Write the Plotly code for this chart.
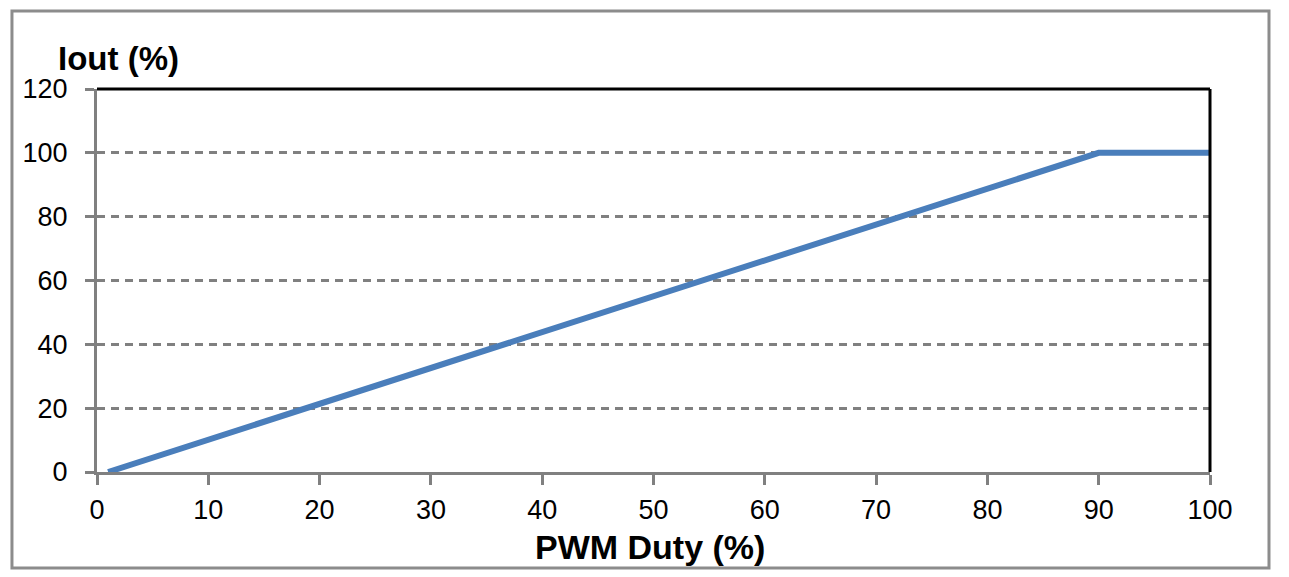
import plotly.graph_objects as go

# PWM duty vs output current
duty_pct = [1, 90, 100]
iout_pct = [0, 100, 100]

x_ticks = [0, 10, 20, 30, 40, 50, 60, 70, 80, 90, 100]
y_ticks = [0, 20, 40, 60, 80, 100, 120]

FONT = "Liberation Sans, Arial, sans-serif"
GRAY = "#808080"

fig = go.Figure()
fig.add_trace(
    go.Scatter(
        x=duty_pct,
        y=iout_pct,
        mode="lines",
        line=dict(color="#4a7ebb", width=6),
        showlegend=False,
        hoverinfo="skip",
    )
)

# page body has an 8px margin, so margins are shifted to keep the plot area in place
fig.update_layout(
    width=1289,
    height=577,
    margin=dict(l=89, r=87, t=81, b=113),
    paper_bgcolor="white",
    plot_bgcolor="white",
    font=dict(family=FONT, size=27, color="black"),
    xaxis=dict(
        range=[0, 100],
        tickvals=x_ticks,
        showgrid=False,
        zeroline=False,
        showline=True,
        linecolor=GRAY,
        linewidth=3,
        ticks="outside",
        ticklen=10,
        tickwidth=3,
        tickcolor=GRAY,
        tickfont=dict(size=27),
        ticklabelstandoff=2,
    ),
    yaxis=dict(
        range=[0, 120],
        tickvals=y_ticks,
        showgrid=True,
        gridcolor=GRAY,
        gridwidth=2.5,
        griddash="8px,6px",
        zeroline=False,
        showline=True,
        linecolor=GRAY,
        linewidth=3,
        ticks="outside",
        ticklen=9,
        tickwidth=3,
        tickcolor=GRAY,
        tickfont=dict(size=27),
        ticklabelstandoff=12,
    ),
    shapes=[
        # black top and right frame of the plot area
        dict(type="line", xref="paper", yref="paper", x0=0, x1=1, y0=1, y1=1,
             line=dict(color="black", width=3)),
        dict(type="line", xref="paper", yref="paper", x0=1, x1=1, y0=0, y1=1,
             line=dict(color="black", width=3)),
        # outer chart border
        dict(type="rect", xref="paper", yref="paper",
             x0=-0.0764, x1=1.0530, y0=-0.2507, y1=1.2037,
             line=dict(color="#8c8c8c", width=3), fillcolor="rgba(0,0,0,0)", layer="below"),
    ],
    annotations=[
        dict(text="<b>Iout (%)</b>", xref="paper", yref="paper", x=0.0189, y=1.08,
             xanchor="center", yanchor="middle", showarrow=False, font=dict(size=33)),
        dict(text="<b>PWM Duty (%)</b>", xref="paper", yref="paper", x=0.4969, y=-0.196,
             xanchor="center", yanchor="middle", showarrow=False, font=dict(size=34)),
    ],
)

fig.write_html("out.html")
